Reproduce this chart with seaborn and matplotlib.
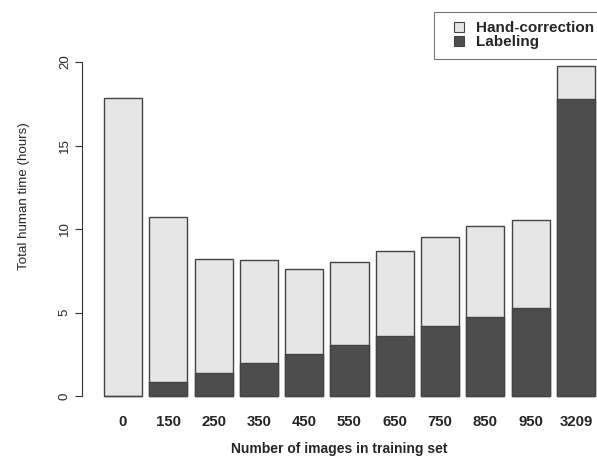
import numpy as np
import pandas as pd
import matplotlib
matplotlib.use('Agg')
import matplotlib.pyplot as plt
import seaborn as sns
from matplotlib.lines import Line2D

# Data
n_images = ['0', '150', '250', '350', '450', '550', '650', '750', '850', '950', '3209']
labeling = [0.0, 0.84, 1.40, 1.96, 2.51, 3.05, 3.61, 4.19, 4.75, 5.28, 17.80]
hand_correction = [17.83, 9.86, 6.80, 6.20, 5.11, 4.99, 5.09, 5.35, 5.45, 5.24, 1.98]

df = pd.DataFrame({
    'images': n_images,
    'Labeling': labeling,
    'Hand-correction': hand_correction,
})
df['total'] = df['Labeling'] + df['Hand-correction']

sns.set_style('white')
plt.rcParams['font.family'] = ['Liberation Sans', 'DejaVu Sans']

light = '#e6e6e6'
dark = '#4d4d4d'
edge = '#444444'

fig = plt.figure(figsize=(5.97, 4.59), dpi=100)
W, H = 597, 459
# plot region in pixels: left 82, right 597, y=0 at 396, y=20 at 62
ax = fig.add_axes([82 / W, (H - 396) / H, (597 - 82) / W, (396 - 62) / H])

# stacked bars: totals first (light), labeling on top (dark)
sns.barplot(data=df, x='images', y='total', color=light, width=0.84,
            edgecolor=edge, linewidth=1.0, saturation=1, ax=ax)
sns.barplot(data=df, x='images', y='Labeling', color=dark, width=0.84,
            edgecolor=edge, linewidth=1.0, saturation=1, ax=ax)

# bar centers at 123 + 45.3*i px
step = 45.3
ax.set_xlim(-(123 - 82) / step, (597 - 123) / step)
ax.set_ylim(0, 20)
for p in ax.patches:
    p.set_clip_on(False)

ax.set_yticks([0, 5, 10, 15, 20])
ax.set_yticklabels(['0', '5', '10', '15', '20'], rotation=90, va='center', fontsize=9.5)
ax.tick_params(axis='y', length=5, width=0.8, color='#333333', pad=3, left=True)
ax.tick_params(axis='x', length=0, pad=14, labelsize=10.8)
for lbl in ax.get_xticklabels():
    lbl.set_fontweight('bold')

for s in ['top', 'right', 'bottom']:
    ax.spines[s].set_visible(False)
ax.spines['left'].set_color('#333333')
ax.spines['left'].set_linewidth(0.8)

ax.set_xlabel('Number of images in training set', fontsize=10, fontweight='bold', labelpad=9)
ax.set_ylabel('Total human time (hours)', fontsize=9.6)
ax.yaxis.set_label_coords((30.5 - 82) / 515, (396 - 196) / 334)

handles = [Line2D([], [], linestyle='none', marker='s', markersize=6.5, markerfacecolor=light,
                  markeredgecolor=edge, markeredgewidth=0.8, label='Hand-correction'),
           Line2D([], [], linestyle='none', marker='s', markersize=6.5, markerfacecolor=dark,
                  markeredgecolor=edge, markeredgewidth=0.8, label='Labeling')]
leg = fig.legend(handles=handles, loc='upper left', bbox_to_anchor=(434 / W, 1 - 12 / H),
                 frameon=True, fancybox=False, edgecolor='#555555',
                 prop={'weight': 'bold', 'size': 11}, handlelength=2.0,
                 handletextpad=0.15, borderpad=0.62, labelspacing=0.0, borderaxespad=0)
leg.get_frame().set_linewidth(0.8)

fig.savefig('out.png', dpi=100)
